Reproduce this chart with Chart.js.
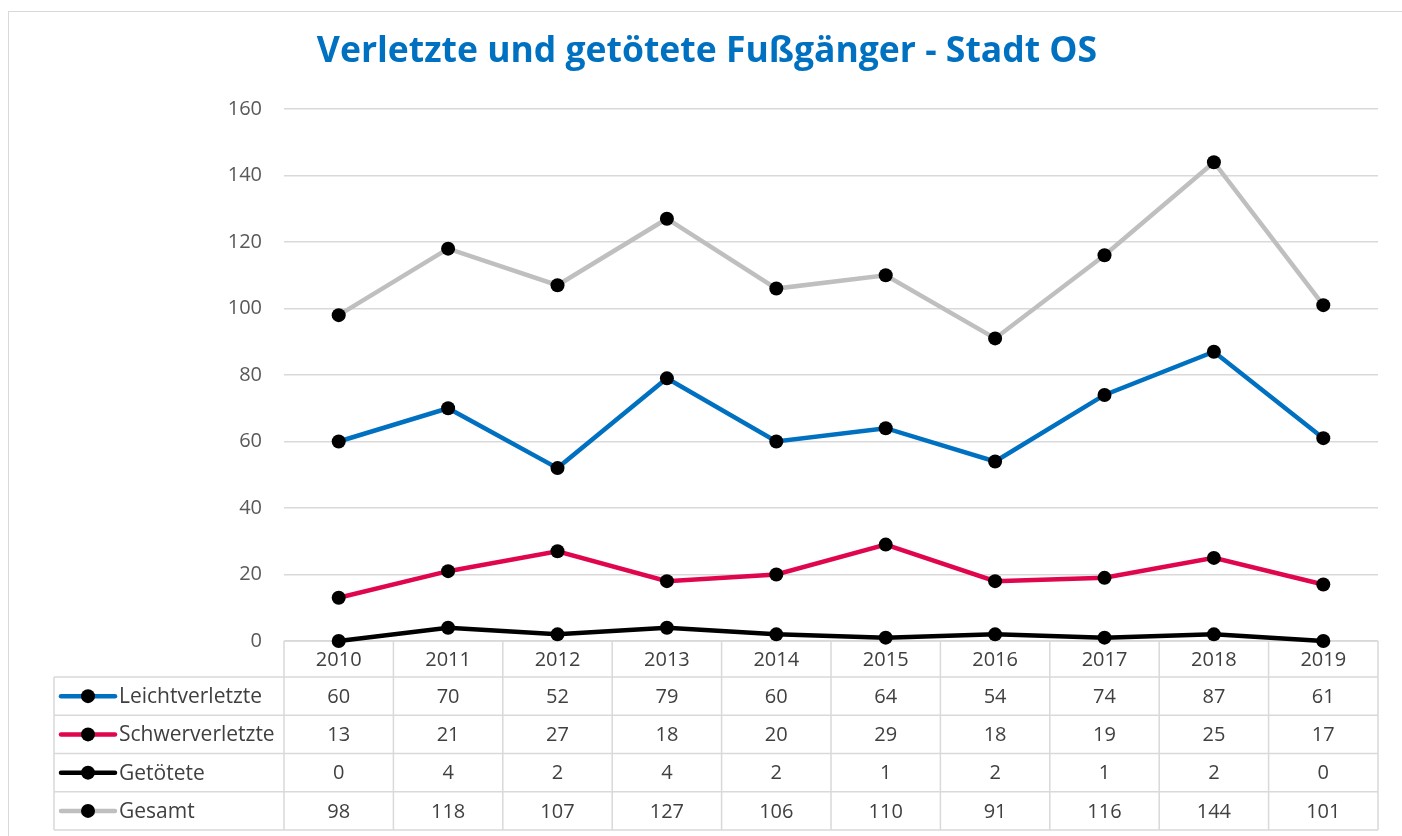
<!DOCTYPE html>
<html>
<head>
<meta charset="utf-8">
<script src="https://cdn.jsdelivr.net/npm/chart.js@4.4.1/dist/chart.umd.min.js"></script>
<style>
html,body{margin:0;padding:0;background:#fff;}
#wrap{width:1402px;height:836px;position:relative;}
</style>
</head>
<body>
<div id="wrap"><canvas id="c" width="1402" height="836"></canvas></div>
<script>
const years = ['2010','2011','2012','2013','2014','2015','2016','2017','2018','2019'];
const leichtverletzte = [60,70,52,79,60,64,54,74,87,61];
const schwerverletzte = [13,21,27,18,20,29,18,19,25,17];
const getoetete = [0,4,2,4,2,1,2,1,2,0];
const gesamt = [98,118,107,127,106,110,91,116,144,101];
const yTicks = [0,20,40,60,80,100,120,140,160];
const titleText = 'Verletzte und getötete Fußgänger - Stadt OS';

const FONT = '"Open Sans", "Noto Sans", sans-serif';
const seriesDefs = [
  {label:'Leichtverletzte', data:leichtverletzte, color:'#0070C0'},
  {label:'Schwerverletzte', data:schwerverletzte, color:'#E0064E'},
  {label:'Getötete', data:getoetete, color:'#000000'},
  {label:'Gesamt', data:gesamt, color:'#BFBFBF'}
];

const tablePlugin = {
  id:'tablePlugin',
  beforeDraw(chart){
    const ctx = chart.ctx;
    ctx.save();
    ctx.fillStyle = '#fff';
    ctx.fillRect(0,0,chart.width,chart.height);
    ctx.strokeStyle = '#D9D9D9';
    ctx.lineWidth = 1;
    ctx.strokeRect(8.5, 11.5, 1420, 840);
    ctx.fillStyle = '#0070C0';
    ctx.font = 'bold 35.5px ' + FONT;
    ctx.textAlign = 'center';
    ctx.textBaseline = 'middle';
    ctx.fillText(titleText, 707, 52);
    ctx.restore();
  },
  beforeDatasetsDraw(chart){
    const ctx = chart.ctx, x = chart.scales.x, y = chart.scales.y;
    const area = chart.chartArea;
    const colW = (area.right - area.left) / years.length;
    const top = y.getPixelForValue(0);
    const headH = 36, rowH = 38.25;
    const labelLeft = 54;
    ctx.save();
    ctx.strokeStyle = '#D9D9D9';
    ctx.lineWidth = 1.5;
    ctx.beginPath();
    ctx.moveTo(area.left, top); ctx.lineTo(area.right, top);
    for (let r = 0; r <= seriesDefs.length; r++) {
      const yy = top + headH + r*rowH;
      ctx.moveTo(labelLeft, yy); ctx.lineTo(area.right, yy);
    }
    const bottom = top + headH + seriesDefs.length*rowH;
    ctx.moveTo(labelLeft, top+headH); ctx.lineTo(labelLeft, bottom);
    for (let i = 0; i <= years.length; i++) {
      const xx = x.getPixelForValue(0) - colW/2 + i*colW;
      ctx.moveTo(xx, top); ctx.lineTo(xx, bottom);
    }
    ctx.stroke();
    ctx.restore();
  },
  afterDraw(chart){
    const ctx = chart.ctx, x = chart.scales.x, y = chart.scales.y;
    const top = y.getPixelForValue(0);
    const headH = 36, rowH = 38.25;
    ctx.save();
    ctx.font = '20px ' + FONT;
    ctx.fillStyle = '#404040';
    ctx.textAlign = 'center';
    ctx.textBaseline = 'middle';
    years.forEach((yr,i)=>{
      ctx.fillText(yr, x.getPixelForValue(i), top + headH/2 + 1);
    });
    seriesDefs.forEach((s,r)=>{
      const cy = top + headH + r*rowH + rowH/2 + 1;
      ctx.font = '20px ' + FONT;
      s.data.forEach((v,i)=>{
        ctx.fillText(String(v), x.getPixelForValue(i), cy);
      });
      ctx.strokeStyle = s.color;
      ctx.lineWidth = 4.5;
      ctx.lineCap = 'round';
      ctx.beginPath();
      ctx.moveTo(61, cy-1); ctx.lineTo(115, cy-1);
      ctx.stroke();
      ctx.fillStyle = '#000';
      ctx.beginPath();
      ctx.arc(88, cy-1, 7, 0, Math.PI*2);
      ctx.fill();
      ctx.fillStyle = '#404040';
      ctx.textAlign = 'left';
      ctx.font = '21px ' + FONT;
      ctx.fillText(s.label, 119, cy);
      ctx.textAlign = 'center';
    });
    ctx.restore();
  }
};

new Chart(document.getElementById('c'), {
  type:'line',
  data:{
    labels: years,
    datasets: seriesDefs.map(s=>({
      label:s.label,
      data:s.data,
      borderColor:s.color,
      backgroundColor:'#000',
      borderWidth:4.5,
      pointRadius:7,
      pointHoverRadius:7,
      pointBackgroundColor:'#000',
      pointBorderColor:'#000',
      pointBorderWidth:0,
      tension:0,
      clip:false
    }))
  },
  options:{
    responsive:false,
    animation:false,
    events:[],
    layout:{padding:{left:0,right:24,top:109,bottom:195}},
    plugins:{legend:{display:false},title:{display:false},tooltip:{enabled:false}},
    scales:{
      x:{type:'category',display:false,offset:true},
      y:{
        min:0,max:160,
        afterFit(scale){ scale.width = 284; },
        afterBuildTicks(scale){ scale.ticks = yTicks.map(v=>({value:v})); },
        border:{display:false},
        grid:{color:'#D9D9D9',lineWidth:1.5,drawTicks:false},
        ticks:{color:'#595959',font:{family:FONT,size:20},padding:22}
      }
    }
  },
  plugins:[tablePlugin]
});
</script>
</body>
</html>
